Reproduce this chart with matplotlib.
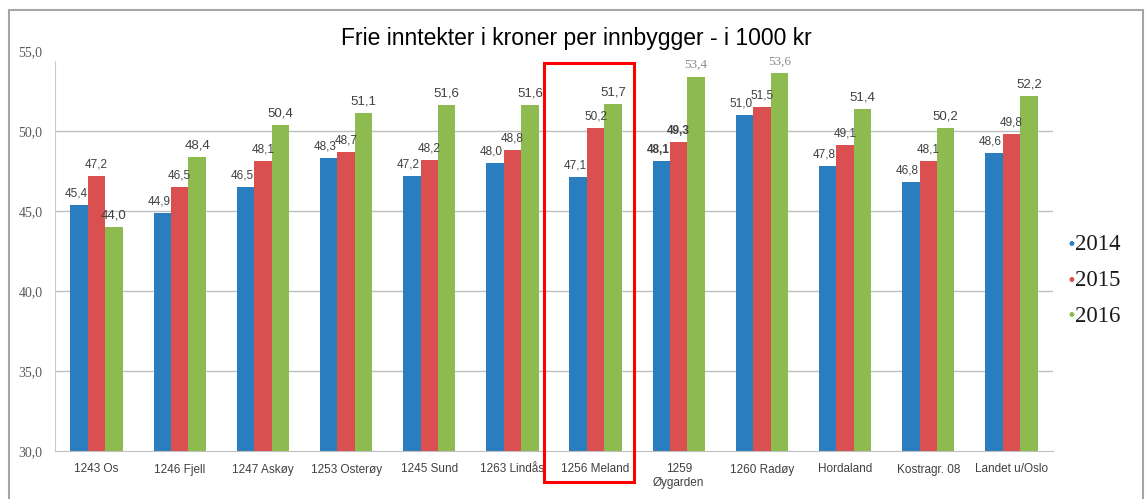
import numpy as np
import matplotlib
matplotlib.use("Agg")
import matplotlib.pyplot as plt
from matplotlib.patches import Rectangle

# data
kategorier = ["1243 Os", "1246 Fjell", "1247 Askøy", "1253 Osterøy", "1245 Sund",
              "1263 Lindås", "1256 Meland", "1259\nØygarden", "1260 Radøy",
              "Hordaland", "Kostragr. 08", "Landet u/Oslo"]
aar = ["2014", "2015", "2016"]
v2014 = [45.4, 44.9, 46.5, 48.3, 47.2, 48.0, 47.1, 48.1, 51.0, 47.8, 46.8, 48.6]
v2015 = [47.2, 46.5, 48.1, 48.7, 48.2, 48.8, 50.2, 49.3, 51.5, 49.1, 48.1, 49.8]
v2016 = [44.0, 48.4, 50.4, 51.1, 51.6, 51.6, 51.7, 53.4, 53.6, 51.4, 50.2, 52.2]
yticks = [30, 35, 40, 45, 50, 55]
markert = "1256 Meland"

farger = ["#2A7EC0", "#DA4F4F", "#8DBB4F"]
serier = [v2014, v2015, v2016]

fig = plt.figure(figsize=(11.47, 4.99), dpi=100)
ax = fig.add_axes([55/1147, 48/499, 998/1147, 400/499])

x = np.arange(len(kategorier))
w = 0.21
for i, (vals, c) in enumerate(zip(serier, farger)):
    pos = x + (i - 1) * w
    ax.bar(pos, np.array(vals) - 30, width=w, bottom=30, color=c, zorder=2)
    for k, (px, v) in enumerate(zip(pos, vals)):
        txt = f"{v:.1f}".replace(".", ",")
        stil = dict(fontsize=8.5 if i < 2 else 9.5, color="#404040", family="Liberation Sans")
        # noen etiketter ser annerledes ut i originalen
        if v in (53.4, 53.6) and i == 2:
            stil.update(color="#8c8c8c", family="Liberation Serif", fontsize=9.5)
        if k == 7 and i < 2:
            stil.update(fontweight="bold")
        ax.text(px - (0.04 if i == 0 else 0), v + 0.35, txt, ha="center", va="bottom", **stil)

ax.set_xlim(-0.5, len(kategorier) - 0.5)
ax.set_ylim(30, 55)
for t in yticks[1:-1]:
    ax.axhline(t, color="#bfbfbf", lw=1, zorder=1)

ax.set_yticks(yticks)
ax.set_yticklabels([f"{t:.1f}".replace(".", ",") for t in yticks],
                   family="Liberation Serif", fontsize=10, color="#595959")
ax.set_xticks(x)
ax.set_xticklabels(kategorier, family="Liberation Sans", fontsize=8.5, color="#404040")
ax.tick_params(length=0, pad=9)
ax.tick_params(axis="y", pad=9)

for s in ["top", "right"]:
    ax.spines[s].set_visible(False)
ax.spines["left"].set_color("#cccccc")
ax.spines["left"].set_bounds(30, 54.4)
ax.spines["bottom"].set_color("#bfbfbf")

# tittel
fig.text(576/1147, 1 - 38/499, "Frie inntekter i kroner per innbygger - i 1000 kr",
         ha="center", va="center", fontsize=16.5, family="Liberation Sans", color="black")

# legende
for i, (a, c) in enumerate(zip(aar, farger)):
    yy = 1 - (245 + i * 35.5) / 499
    fig.text(1071/1147, yy, "•", color=c, ha="center", va="center", fontsize=12)
    fig.text(1075/1147, yy, a, ha="left", va="center", fontsize=16.5,
             family="Liberation Serif", color="#1a1a1a")

# rød ramme rundt Meland
idx = kategorier.index(markert)
ax.add_patch(Rectangle((idx - 0.62, 28.05), 1.08, 26.2, fill=False, ec="#ff0000",
                       lw=2.2, clip_on=False, zorder=5))

# ytre ramme
fig.patches.append(Rectangle((9/1147, -0.01), 1134/1147, 1 - 10/499 + 0.01, fill=False,
                             ec="#a6a6a6", lw=1.5, transform=fig.transFigure))

fig.savefig("out.png", dpi=100)
